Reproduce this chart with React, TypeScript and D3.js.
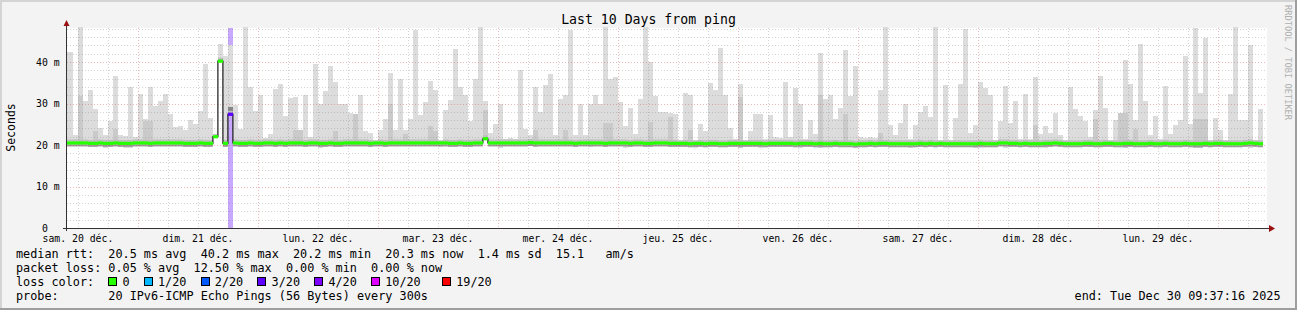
import React from "react";
import * as d3 from "d3";

// ---------- data ----------
const START = new Date(2025, 11, 20, 9, 37, 16);
const END = new Date(2025, 11, 30, 9, 37, 16);
const FIRST_BIN = new Date(2025, 11, 20, 9, 0, 0); // hourly bins

const maxRtt = [
  42.4, 42.4, 22.5, 48.5, 30.7, 33.3, 28.7, 24.2, 22.3, 25.9, 36.6, 22.5, 22.1, 34.1, 21.9, 32.4, 26.3, 34.0, 29.5, 30.5, 32.4, 27.4, 24.3, 24.6,
  23.5, 26.1, 25.0, 28.2, 39.5, 26.5, 22.6, 44.4, 41.5, 44.0, 29.7, 23.9, 48.5, 34.0, 28.2, 32.0, 21.7, 22.7, 33.6, 34.8, 27.1, 31.4, 31.6, 22.7,
  32.1, 21.9, 39.6, 30.0, 33.0, 39.0, 35.2, 30.0, 30.0, 27.7, 27.5, 32.0, 23.3, 22.8, 21.1, 23.7, 26.3, 37.4, 23.7, 35.8, 23.7, 26.3, 47.8, 27.3,
  30.4, 35.4, 33.3, 21.1, 28.5, 30.9, 43.2, 34.0, 32.1, 25.9, 35.8, 48.5, 30.6, 22.9, 25.1, 30.0, 21.5, 21.7, 21.5, 38.0, 23.9, 22.3, 34.0, 27.9,
  34.5, 37.2, 22.5, 31.2, 32.1, 47.8, 22.3, 29.8, 22.5, 29.8, 32.1, 29.8, 48.5, 36.0, 36.4, 30.4, 24.5, 28.9, 22.7, 31.2, 48.5, 40.0, 31.7, 27.9,
  27.9, 27.7, 27.4, 21.1, 32.6, 32.1, 21.1, 25.1, 23.3, 35.0, 33.3, 43.5, 32.0, 24.2, 21.5, 34.8, 21.1, 23.3, 27.4, 27.5, 21.5, 27.3, 21.9, 21.7,
  35.2, 21.9, 33.8, 30.0, 21.5, 26.1, 22.7, 42.2, 31.2, 32.0, 26.3, 29.0, 43.0, 31.7, 39.0, 21.9, 21.7, 21.9, 21.7, 33.3, 48.5, 24.9, 22.5, 25.4,
  29.8, 21.5, 24.9, 27.9, 29.5, 26.7, 48.5, 21.1, 34.5, 21.1, 26.6, 34.6, 48.0, 22.9, 24.9, 35.2, 33.8, 32.1, 21.1, 25.9, 34.3, 25.4, 30.6, 21.5,
  32.4, 21.5, 36.4, 22.7, 24.6, 22.9, 27.8, 22.5, 21.1, 34.0, 28.7, 27.1, 25.9, 21.9, 28.5, 36.6, 29.0, 21.1, 26.1, 27.3, 40.6, 34.8, 26.1, 44.4,
  30.6, 22.3, 27.1, 21.5, 34.3, 22.7, 24.9, 26.1, 41.4, 25.1, 48.3, 32.6, 45.7, 21.1, 26.6, 23.7, 21.1, 32.4, 48.5, 26.1, 26.1, 44.2, 21.1, 28.7,
];

const medianRtt = [
  20.5, 20.5, 20.5, 20.5, 20.5, 20.4, 20.4, 20.5, 20.4, 20.4, 20.5, 20.4, 20.4, 20.4, 20.5, 20.5, 20.5, 20.4, 20.5, 20.5, 20.5, 20.5, 20.5, 20.5,
  20.4, 20.4, 20.4, 20.5, 20.4, 20.4, 22.0, 40.2, 20.4, 27.4, 20.5, 20.4, 20.4, 20.5, 20.4, 20.4, 20.5, 20.5, 20.4, 20.5, 20.4, 20.5, 20.5, 20.5,
  20.4, 20.5, 20.5, 20.4, 20.4, 20.5, 20.4, 20.4, 20.5, 20.5, 20.5, 20.5, 20.5, 20.4, 20.5, 20.5, 20.4, 20.5, 20.5, 20.5, 20.5, 20.5, 20.5, 20.5,
  20.5, 20.5, 20.5, 20.5, 20.5, 20.4, 20.4, 20.5, 20.4, 20.4, 20.5, 20.5, 21.5, 20.5, 20.5, 20.5, 20.5, 20.5, 20.5, 20.5, 20.5, 20.6, 20.5, 20.5,
  20.5, 20.5, 20.5, 20.5, 20.5, 20.5, 20.4, 20.5, 20.5, 20.5, 20.5, 20.5, 20.4, 20.5, 20.5, 20.5, 20.5, 20.4, 20.5, 20.5, 20.4, 20.4, 20.5, 20.5,
  20.5, 20.4, 20.4, 20.4, 20.4, 20.3, 20.4, 20.4, 20.3, 20.4, 20.4, 20.3, 20.3, 20.4, 20.4, 20.4, 20.4, 20.4, 20.4, 20.4, 20.3, 20.4, 20.4, 20.4,
  20.4, 20.4, 20.3, 20.4, 20.4, 20.4, 20.3, 20.4, 20.3, 20.3, 20.4, 20.3, 20.3, 20.3, 20.2, 20.3, 20.3, 20.4, 20.3, 20.4, 20.4, 20.3, 20.3, 20.3,
  20.3, 20.3, 20.3, 20.4, 20.3, 20.4, 20.3, 20.4, 20.3, 20.3, 20.3, 20.3, 20.3, 20.3, 20.3, 20.4, 20.3, 20.3, 20.3, 20.5, 20.5, 20.4, 20.4, 20.3,
  20.4, 20.3, 20.3, 20.3, 20.4, 20.4, 20.5, 20.4, 20.3, 20.3, 20.3, 20.3, 20.4, 20.4, 20.3, 20.3, 20.4, 20.4, 20.3, 20.3, 20.4, 20.4, 20.3, 20.3,
  20.3, 20.4, 20.3, 20.3, 20.4, 20.3, 20.3, 20.3, 20.4, 20.3, 20.3, 20.3, 20.4, 20.3, 20.4, 20.4, 20.3, 20.3, 20.3, 20.3, 20.4, 20.5, 20.4, 20.3,
];

const minRtt = [
  20.1, 20.1, 20.0, 20.1, 20.0, 19.8, 20.0, 20.0, 19.4, 20.0, 20.0, 19.9, 19.4, 19.4, 20.1, 20.0, 20.0, 19.9, 20.0, 20.1, 20.1, 20.0, 20.0, 20.1,
  20.0, 20.0, 20.0, 20.0, 20.0, 20.0, 21.9, 40.1, 20.0, 27.3, 20.0, 20.0, 19.9, 20.0, 20.0, 20.0, 20.0, 20.0, 19.9, 20.0, 20.0, 20.0, 20.1, 20.0,
  20.0, 20.0, 20.0, 19.4, 20.0, 20.0, 20.0, 20.0, 20.0, 20.1, 20.1, 20.0, 20.0, 20.0, 20.0, 20.0, 20.0, 20.1, 20.1, 20.1, 20.0, 20.0, 20.1, 20.1,
  20.1, 20.1, 20.0, 19.5, 20.1, 19.9, 20.0, 20.0, 19.9, 20.0, 20.0, 20.0, 21.4, 20.1, 20.0, 19.4, 20.1, 20.1, 20.1, 20.1, 20.1, 20.2, 19.5, 20.0,
  20.1, 20.1, 20.0, 20.0, 20.0, 20.0, 20.0, 20.0, 20.0, 19.5, 20.0, 20.0, 20.0, 20.0, 20.0, 20.0, 19.4, 20.0, 20.0, 20.0, 20.0, 20.0, 20.0, 20.0,
  20.0, 20.0, 20.0, 19.9, 20.0, 19.9, 19.3, 20.0, 19.9, 20.0, 20.0, 19.9, 19.9, 20.0, 20.0, 19.4, 20.0, 20.0, 20.0, 19.4, 19.9, 20.0, 20.0, 20.0,
  20.0, 20.0, 19.9, 19.4, 20.0, 20.0, 19.9, 19.4, 19.9, 19.9, 20.0, 19.9, 19.9, 19.9, 19.8, 19.9, 19.9, 20.0, 19.9, 20.0, 20.0, 19.9, 19.9, 19.9,
  19.9, 19.3, 19.9, 20.0, 19.9, 20.0, 19.9, 20.0, 19.9, 19.9, 19.9, 19.9, 19.9, 19.9, 19.4, 19.4, 19.9, 19.9, 19.9, 20.0, 19.3, 20.0, 20.0, 19.9,
  20.0, 19.9, 19.9, 19.9, 19.4, 20.0, 20.0, 20.0, 19.9, 19.9, 19.9, 19.9, 20.0, 19.5, 19.9, 19.9, 20.0, 20.0, 19.9, 19.9, 19.2, 20.0, 19.9, 19.9,
  19.9, 20.0, 19.9, 19.9, 20.0, 19.9, 19.9, 19.9, 20.0, 19.9, 19.3, 19.3, 20.0, 19.9, 20.0, 20.0, 19.9, 19.9, 19.9, 19.9, 20.0, 19.3, 20.0, 19.9,
];

// darker inner smoke: [bin, top of band]
const innerBands: [number, number][] = [
  [3, 31.9], [6, 23.3], [10, 23.9], [16, 25.9], [17, 25.9], [46, 23.5], [47, 23.5], [54, 23.3], [58, 27.4],
  [65, 30.0], [68, 22.6], [73, 24.7], [74, 23.3], [84, 28.5], [94, 23.5], [100, 23.7], [108, 25.3], [109, 25.3],
  [117, 25.5], [121, 26.7], [125, 23.7], [135, 31.6], [151, 32.0], [156, 27.5], [163, 23.0], [194, 24.9],
  [206, 26.3], [211, 27.6], [212, 27.6], [214, 23.9], [226, 26.3], [227, 26.3], [228, 26.3],
];
// darkest smoke close to median: [bin, from, to]
const darkBands: [number, number, number][] = [[31, 40.2, 40.9], [33, 27.4, 29.1]];
// loss per bin (%): [bin, loss]
const lossBins: [number, number][] = [[33, 12.5]];

const dayLabels = [
  "sam. 20 déc.", "dim. 21 déc.", "lun. 22 déc.", "mar. 23 déc.", "mer. 24 déc.",
  "jeu. 25 déc.", "ven. 26 déc.", "sam. 27 déc.", "dim. 28 déc.", "lun. 29 déc.",
];
const yTicks = [0, 10, 20, 30, 40];
const yTickLabels = [" 0", "10 m", "20 m", "30 m", "40 m"];

const rttLine = "median rtt:  20.5 ms avg  40.2 ms max  20.2 ms min  20.3 ms now  1.4 ms sd  15.1   am/s";
const lossLine = "packet loss: 0.05 % avg  12.50 % max  0.00 % min  0.00 % now";
const lossTitle = "loss color:";
const lossLabels = ["0", "1/20", "2/20", "3/20", "4/20", "10/20", "19/20"];
const lossColors = ["#26ff00", "#00b8ff", "#0059ff", "#5e00ff", "#7e00ff", "#dd00ff", "#ff0000"];
const probeLine = "probe:       20 IPv6-ICMP Echo Pings (56 Bytes) every 300s";
const endText = "end: Tue Dec 30 09:37:16 2025";

// ---------- layout ----------
const W = 1297;
const H = 310;
const L = 67, R = 1267, T = 28, B = 228;
const MONO = "'DejaVu Sans Mono', monospace";
const LEG_FS = 11.8;
const CH = 7.1; // monospace advance at LEG_FS
const LEG_X = 16;
const boxCols = [13, 18, 26, 34, 42, 50, 60];
const lblCols = [15, 20, 28, 36, 44, 52, 62];

const keepSpaces = (s: string) => s.replace(/ /g, "\u00a0");

function lossColor(loss: number) {
  if (loss <= 0) return lossColors[0];
  const lost = (loss / 100) * 20;
  const levels = [0, 1, 2, 3, 4, 10, 19];
  let idx = 0;
  levels.forEach((lv, i) => { if (lost >= lv - 0.5) idx = i; });
  return lossColors[idx];
}

export default function App() {
  const x = d3.scaleTime().domain([START, END]).range([66, 1266]);
  const y = d3.scaleLinear().domain([0, 48.2]).range([B, T]);
  const lossMap = new Map(lossBins);

  const bins = maxRtt.map((mx, i) => {
    const t0 = d3.timeHour.offset(FIRST_BIN, i);
    const t1 = d3.timeHour.offset(FIRST_BIN, i + 1);
    return {
      i,
      x0: Math.max(L, x(t0)),
      x1: Math.min(R, x(t1)),
      max: mx,
      med: medianRtt[i],
      min: minRtt[i],
      loss: lossMap.get(i) || 0,
    };
  });

  const hGrid = d3.range(2, 48.2, 2);
  const vGrid = d3.timeHour.every(6)!.range(START, END);
  const days = d3.timeDay.range(new Date(2025, 11, 20), new Date(2025, 11, 30));

  const medLine = d3
    .line<{ x: number; v: number }>()
    .x((d) => d.x)
    .y((d) => y(d.v))
    .curve(d3.curveStepAfter)([
    ...bins.map((b) => ({ x: b.x0, v: b.med })),
    { x: bins[bins.length - 1].x1, v: bins[bins.length - 1].med },
  ]);

  const minorColor = "rgba(120,120,120,0.32)";
  const majorColor = "rgba(215,70,70,0.38)";

  return (
    <svg
      width={W}
      height={H}
      style={{ position: "absolute", left: 0, top: 0, display: "block" }}
      fontFamily={MONO}
    >
      {/* background & frame */}
      <rect x={0} y={0} width={W} height={H} fill="#f3f3f3" />
      <rect x={0} y={0} width={W} height={2} fill="#d4d4d4" />
      <rect x={0} y={0} width={2} height={H} fill="#d4d4d4" />
      <rect x={0} y={H - 2} width={W} height={2} fill="#9e9e9e" />
      <rect x={W - 2} y={0} width={2} height={H} fill="#9e9e9e" />

      {/* canvas */}
      <rect x={L} y={T} width={R - L} height={B - T} fill="#ffffff" />

      <g shapeRendering="crispEdges">
        {/* loss background */}
        {bins.filter((b) => b.loss > 0).map((b) => (
          <rect key={"lb" + b.i} x={b.x0} y={T} width={b.x1 - b.x0} height={B - T} fill="#c9a8ff" />
        ))}
        {/* outer smoke */}
        {bins.map((b) => (
          <rect key={"s" + b.i} x={b.x0} y={y(b.max)} width={b.x1 - b.x0} height={y(b.min) - y(b.max)} fill="#dcdcdc" />
        ))}
        {/* inner smoke */}
        {innerBands.map(([i, top]) => {
          const b = bins[i];
          return <rect key={"in" + i} x={b.x0} y={y(top)} width={b.x1 - b.x0} height={y(b.min) - y(top)} fill="#cacaca" />;
        })}
        {darkBands.map(([i, lo, hi]) => {
          const b = bins[i];
          return <rect key={"dk" + i} x={b.x0} y={y(hi)} width={b.x1 - b.x0} height={y(lo) - y(hi)} fill="#868686" />;
        })}
      </g>
      {/* core smoke around median (anti-aliased) */}
      <g>
        {bins.map((b) => {
          const ym = y(b.med);
          const top = Math.max(y(b.max), ym - 3.5);
          const parts = [
            <rect key={"ca" + b.i} x={b.x0} y={top} width={b.x1 - b.x0} height={Math.max(0, ym - 1.5 - top)} fill="#bdbdbd" />,
          ];
          if (b.med - b.min >= 0.2) {
            parts.push(
              <rect key={"cb" + b.i} x={b.x0} y={ym + 1.5} width={b.x1 - b.x0} height={2} fill="#999999" />
            );
          }
          return parts;
        })}
      </g>

      {/* grid */}
      <g shapeRendering="crispEdges" strokeWidth={1}>
        {hGrid.map((v) => (
          <line
            key={"hg" + v}
            x1={L}
            x2={R}
            y1={Math.round(y(v)) + 0.5}
            y2={Math.round(y(v)) + 0.5}
            stroke={v % 10 === 0 ? majorColor : minorColor}
            strokeDasharray="1,2"
          />
        ))}
        {vGrid.map((t) => {
          const xx = Math.round(x(t)) + 0.5;
          return (
            <line
              key={"vg" + t.getTime()}
              x1={xx}
              x2={xx}
              y1={T}
              y2={B}
              stroke={t.getHours() === 0 ? majorColor : minorColor}
              strokeDasharray="1,2"
            />
          );
        })}
      </g>

      {/* median */}
      <path d={medLine || ""} fill="none" stroke="#1a1a1a" strokeWidth={1.2} />
      <g>
        {bins.map((b) => (
          <rect
            key={"m" + b.i}
            x={b.x0}
            y={y(b.med) - 1.6}
            width={b.x1 - b.x0 + 0.2}
            height={3.2}
            fill={lossColor(b.loss)}
          />
        ))}
      </g>

      {/* axes */}
      <line x1={63} x2={1270} y1={B + 0.5} y2={B + 0.5} stroke="#333" shapeRendering="crispEdges" />
      <line x1={66.5} x2={66.5} y1={B + 3} y2={24} stroke="#333" shapeRendering="crispEdges" />
      <path d="M1269,225 L1275,228.5 L1269,232 Z" fill="#9a1010" />
      <path d="M63.5,26 L66.5,20 L69.5,26 Z" fill="#9a1010" />

      {/* y labels */}
      {yTicks.map((v, i) => (
        <text key={"yl" + v} x={36} y={y(v) + 3.5} fontSize={9.8} fill="#000">
          {keepSpaces(yTickLabels[i])}
        </text>
      ))}
      {/* x labels */}
      {days.map((d, i) => (
        <text
          key={"xl" + i}
          x={x(d3.timeHour.offset(d, 12))}
          y={241.5}
          fontSize={9.8}
          textAnchor="middle"
          fill="#000"
        >
          {dayLabels[i]}
        </text>
      ))}

      {/* title & axis title */}
      <text x={648.5} y={23.5} fontSize={13.2} textAnchor="middle" fill="#000">
        Last 10 Days from ping
      </text>
      <text transform="translate(15,127.5) rotate(-90)" fontSize={11.5} textAnchor="middle" fill="#000">
        Seconds
      </text>
      <text transform="translate(1284.5,5) rotate(90)" fontSize={8.7} fill="#b0b0b0">
        RRDTOOL / TOBI OETIKER
      </text>

      {/* legend */}
      <g fontSize={LEG_FS} fill="#000">
        <text x={LEG_X} y={258}>{keepSpaces(rttLine)}</text>
        <text x={LEG_X} y={272}>{keepSpaces(lossLine)}</text>
        <text x={LEG_X} y={286}>{keepSpaces(lossTitle)}</text>
        {lossLabels.map((s, i) => (
          <g key={"lc" + i}>
            <rect
              x={Math.round(LEG_X + boxCols[i] * CH) + 0.5}
              y={277.5}
              width={8}
              height={8}
              fill={lossColors[i]}
              stroke="#000"
              strokeWidth={1}
              shapeRendering="crispEdges"
            />
            <text x={LEG_X + lblCols[i] * CH} y={286}>{s}</text>
          </g>
        ))}
        <text x={LEG_X} y={300}>{keepSpaces(probeLine)}</text>
        <text x={1280.5} y={300} textAnchor="end">{endText}</text>
      </g>
    </svg>
  );
}
